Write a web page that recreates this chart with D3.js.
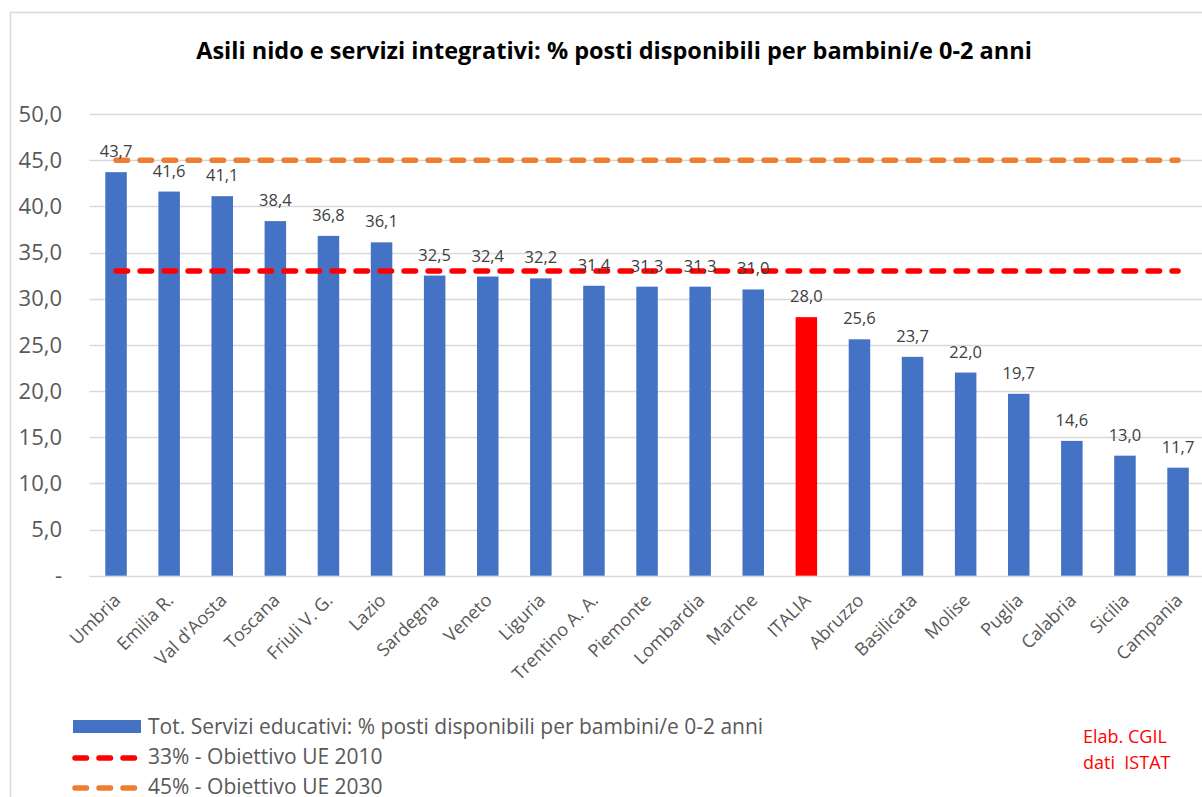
<!DOCTYPE html>
<html>
<head>
<meta charset="utf-8">
<script src="https://cdn.jsdelivr.net/npm/d3@7"></script>
<style>
  body { margin: 0; background: #fff; }
  text { font-family: "Open Sans", sans-serif; }
</style>
</head>
<body>
<script>
// Data
const regions = ["Umbria", "Emilia R.", "Val d'Aosta", "Toscana", "Friuli V. G.", "Lazio",
    "Sardegna", "Veneto", "Liguria", "Trentino A. A.", "Piemonte", "Lombardia", "Marche",
    "ITALIA", "Abruzzo", "Basilicata", "Molise", "Puglia", "Calabria", "Sicilia", "Campania"];
const posti = [43.7, 41.6, 41.1, 38.4, 36.8, 36.1, 32.5, 32.4, 32.2, 31.4, 31.3, 31.3, 31.0,
    28.0, 25.6, 23.7, 22.0, 19.7, 14.6, 13.0, 11.7];
const obiettivo2010 = 33;
const obiettivo2030 = 45;
const yTicks = [0, 5, 10, 15, 20, 25, 30, 35, 40, 45, 50];

const legendLabels = [
    "Tot. Servizi educativi: % posti disponibili per bambini/e 0-2 anni",
    "33% - Obiettivo UE 2010",
    "45% - Obiettivo UE 2030"
];

const width = 1202, height = 797;
const blue = "#4472C4", red = "#FF0000", orange = "#ED7D31";

const svg = d3.select("body").append("svg")
    .attr("width", width)
    .attr("height", height);

// chart frame
svg.append("rect")
    .attr("x", 10.5).attr("y", 12.5)
    .attr("width", 1300).attr("height", 900)
    .attr("fill", "none")
    .attr("stroke", "#D9D9D9")
    .attr("stroke-width", 1.5);

// scales
const x = d3.scaleBand()
    .domain(regions)
    .range([89.5, 1204.6])
    .paddingInner(0.595)
    .paddingOuter(0.2975);

const y = d3.scaleLinear()
    .domain([0, 50])
    .range([575.7, 114]);

const fmt = v => v === 0 ? "-" : d3.format(".1f")(v).replace(".", ",");

// gridlines
svg.append("g")
    .selectAll("line")
    .data(yTicks)
    .enter().append("line")
    .attr("x1", 89.5).attr("x2", 1204.6)
    .attr("y1", d => Math.round(y(d)) + 0.5)
    .attr("y2", d => Math.round(y(d)) + 0.5)
    .attr("stroke", "#D9D9D9")
    .attr("stroke-width", 1.3);

// y axis labels
svg.append("g")
    .selectAll("text")
    .data(yTicks)
    .enter().append("text")
    .attr("x", 62)
    .attr("y", d => y(d))
    .attr("dy", "0.35em")
    .attr("text-anchor", "end")
    .attr("fill", "#595959")
    .style("font-size", "22px")
    .text(fmt);

// bars
svg.append("g")
    .selectAll("rect")
    .data(regions)
    .enter().append("rect")
    .attr("x", d => x(d))
    .attr("y", (d, i) => y(posti[i]))
    .attr("width", x.bandwidth())
    .attr("height", (d, i) => y(0) - y(posti[i]))
    .attr("fill", d => d === "ITALIA" ? red : blue);

// target lines
const line = d3.line()
    .x(d => x(d[0]) + x.bandwidth() / 2)
    .y(d => y(d[1]));

function dashed(sel, color) {
    return sel.attr("fill", "none")
        .attr("stroke", color)
        .attr("stroke-width", 5.5)
        .attr("stroke-linecap", "round")
        .attr("stroke-dasharray", "11.5 12.5");
}

svg.append("path")
    .datum(regions.map(r => [r, obiettivo2010]))
    .attr("d", line)
    .call(dashed, red);

svg.append("path")
    .datum(regions.map(r => [r, obiettivo2030]))
    .attr("d", line)
    .call(dashed, orange);

// data labels
svg.append("g")
    .selectAll("text")
    .data(regions)
    .enter().append("text")
    .attr("x", d => x(d) + x.bandwidth() / 2)
    .attr("y", (d, i) => y(posti[i]) - 15)
    .attr("text-anchor", "middle")
    .attr("fill", "#404040")
    .style("font-size", "16.5px")
    .text((d, i) => fmt(posti[i]));

// x axis labels
svg.append("g")
    .selectAll("text")
    .data(regions)
    .enter().append("text")
    .attr("transform", d => "translate(" + (x(d) + x.bandwidth() / 2 + 1) + ",597) rotate(-45)")
    .attr("text-anchor", "end")
    .attr("dy", "0.35em")
    .attr("fill", "#595959")
    .style("font-size", "18px")
    .text(d => d);

// title
svg.append("text")
    .attr("x", 614)
    .attr("y", 59)
    .attr("text-anchor", "middle")
    .attr("fill", "#000")
    .style("font-size", "23.5px")
    .style("font-weight", "bold")
    .text("Asili nido e servizi integrativi: % posti disponibili per bambini/e 0-2 anni");

// legend
const legend = svg.append("g");
legend.append("rect")
    .attr("x", 73).attr("y", 720)
    .attr("width", 68).attr("height", 13)
    .attr("fill", blue);
[[758, red], [788, orange]].forEach(function(p) {
    legend.append("line")
        .attr("x1", 75).attr("x2", 138)
        .attr("y1", p[0]).attr("y2", p[0])
        .call(dashed, p[1]);
});
legend.selectAll("text")
    .data(legendLabels)
    .enter().append("text")
    .attr("x", 148)
    .attr("y", (d, i) => 727 + i * 30)
    .attr("dy", "0.35em")
    .attr("fill", "#595959")
    .style("font-size", "21px")
    .text(d => d);

// source note
svg.append("g")
    .selectAll("text")
    .data(["Elab. CGIL", "dati  ISTAT"])
    .enter().append("text")
    .attr("x", 1083)
    .attr("y", (d, i) => 743 + i * 26)
    .attr("fill", red)
    .style("white-space", "pre")
    .style("font-size", "18px")
    .text(d => d);
</script>
</body>
</html>
